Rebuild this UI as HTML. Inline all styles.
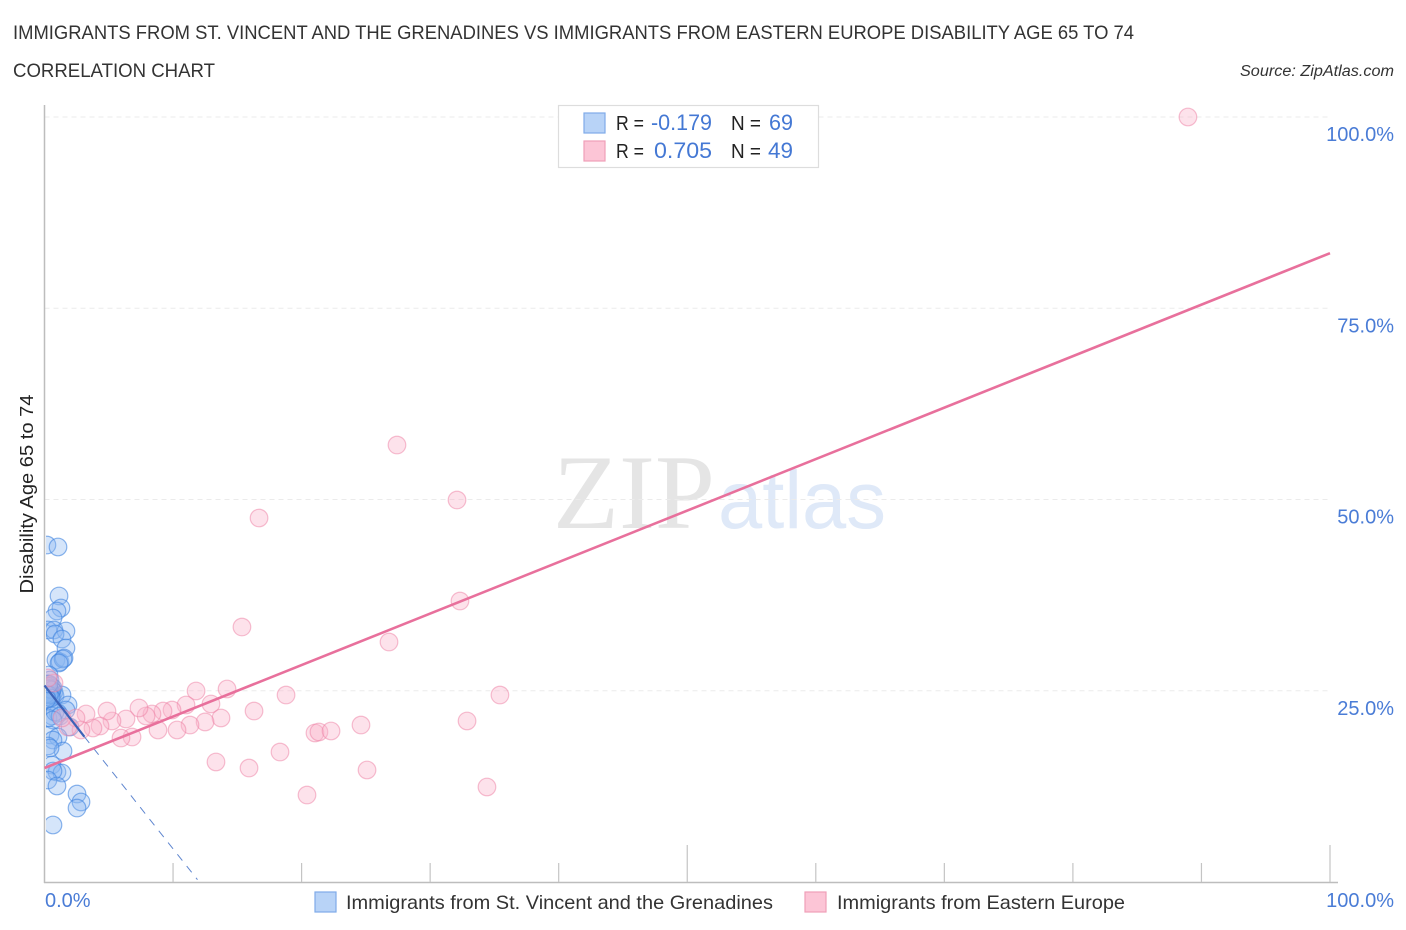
<!DOCTYPE html>
<html>
<head>
<meta charset="utf-8">
<title>Disability Age 65 to 74 Correlation Chart</title>
<style>
html,body{margin:0;padding:0;background:#fff;}
svg{display:block;font-family:"Liberation Sans",sans-serif;}
</style>
</head>
<body>
<svg id="chart" width="1406" height="930" viewBox="0 0 1406 930" xmlns="http://www.w3.org/2000/svg">
  <rect width="1406" height="930" fill="#fff"/>
  <text x="13" y="39" font-size="19" fill="#333" textLength="1121" lengthAdjust="spacingAndGlyphs">IMMIGRANTS FROM ST. VINCENT AND THE GRENADINES VS IMMIGRANTS FROM EASTERN EUROPE DISABILITY AGE 65 TO 74</text>
  <text x="13" y="77" font-size="19" fill="#333" textLength="202" lengthAdjust="spacingAndGlyphs">CORRELATION CHART</text>
  <text x="1394" y="76" font-size="15.5" font-style="italic" fill="#333" text-anchor="end" textLength="154" lengthAdjust="spacingAndGlyphs">Source: ZipAtlas.com</text>
  <g>
    <text x="553" y="528" font-family="'Liberation Serif',serif" font-size="106" fill="#e5e5e5" textLength="162" lengthAdjust="spacingAndGlyphs">ZIP</text>
    <text x="718" y="528" font-family="'Liberation Sans',sans-serif" font-size="82" fill="#dfe9f8" textLength="168" lengthAdjust="spacingAndGlyphs">atlas</text>
  </g>
  <g id="grid"></g>
  <g id="axes"></g>
  <defs>
    <clipPath id="plot-clip"><rect x="46" y="100" width="1300" height="782"/></clipPath>
  </defs>
  <g id="marks" clip-path="url(#plot-clip)"></g>
  <g id="trends"></g>
  <g id="labels"></g>
  <text transform="translate(33,494) rotate(-90)" font-size="18" fill="#222" text-anchor="middle" textLength="199" lengthAdjust="spacingAndGlyphs">Disability Age 65 to 74</text>

  <g>
    <rect x="558.5" y="105.5" width="260" height="62" fill="#fff" stroke="#ddd" stroke-width="1.2"/>
    <rect x="584" y="113" width="21" height="20" fill="#b8d3f7" stroke="#7fabe8" stroke-width="1.2"/>
    <rect x="584" y="141" width="21" height="20" fill="#fcc5d6" stroke="#ef9fb8" stroke-width="1.2"/>
    <text x="616" y="130" font-size="20" fill="#222" textLength="28" lengthAdjust="spacingAndGlyphs">R =</text>
    <text x="651" y="130" font-size="22" fill="#4478d4" textLength="61" lengthAdjust="spacingAndGlyphs">-0.179</text>
    <text x="731" y="130" font-size="20" fill="#222" textLength="30" lengthAdjust="spacingAndGlyphs">N =</text>
    <text x="769" y="130" font-size="22" fill="#4478d4" textLength="24" lengthAdjust="spacingAndGlyphs">69</text>
    <text x="616" y="158" font-size="20" fill="#222" textLength="28" lengthAdjust="spacingAndGlyphs">R =</text>
    <text x="654" y="158" font-size="22" fill="#4478d4" textLength="58" lengthAdjust="spacingAndGlyphs">0.705</text>
    <text x="731" y="158" font-size="20" fill="#222" textLength="30" lengthAdjust="spacingAndGlyphs">N =</text>
    <text x="768" y="158" font-size="22" fill="#4478d4" textLength="25" lengthAdjust="spacingAndGlyphs">49</text>
  </g>

  <g>
    <rect x="315" y="892" width="21" height="20" fill="#b8d3f7" stroke="#7fabe8" stroke-width="1.2"/>
    <text x="346" y="909" font-size="19.5" fill="#333" textLength="427" lengthAdjust="spacingAndGlyphs">Immigrants from St. Vincent and the Grenadines</text>
    <rect x="805" y="892" width="21" height="20" fill="#fcc5d6" stroke="#ef9fb8" stroke-width="1.2"/>
    <text x="837" y="909" font-size="19.5" fill="#333" textLength="288" lengthAdjust="spacingAndGlyphs">Immigrants from Eastern Europe</text>
  </g>
</svg>
<script>
const blueX = [0.19,1.05,1.13,1.28,0.97,0.66,0.27,0.74,1.67,0.82,1.36,1.67,0.89,1.21,1.52,1.44,1.13,0.35,0.43,0.19,0.51,0.27,0.66,0.12,0.43,0.74,0.19,0.58,0.27,0.82,1.36,0.04,0.43,1.83,1.67,1.05,0.58,0.27,0.82,1.21,0.50,0.35,0.66,0.42,1.98,0.43,1.05,0.66,0.27,1.44,0.43,0.58,0.97,1.36,0.66,0.27,0.97,2.53,2.84,2.53,0.66,0.19,0.35,0.58,0.12,0.35,0.51,0.19,0.35];
const blueY = [44.05,43.79,37.39,35.82,35.42,34.51,32.94,32.94,32.81,32.42,31.76,30.59,29.02,28.76,29.28,29.15,28.63,27.06,26.41,25.88,25.62,25.36,25.36,25.10,24.97,24.84,24.71,24.44,24.18,24.31,24.44,23.79,23.53,23.14,22.48,22.09,21.70,21.44,22.22,21.70,24.80,25.20,21.18,24.60,20.26,19.22,18.95,18.56,17.78,17.12,17.52,15.29,14.38,14.25,14.51,13.33,12.55,11.50,10.46,9.67,7.45,25.62,25.23,25.10,24.58,24.44,24.05,23.92,25.88];
const pinkX = [88.95,27.42,32.09,16.69,32.32,15.36,26.80,35.43,32.87,14.20,11.79,18.79,16.30,12.95,11.01,9.92,9.22,13.73,12.49,11.32,10.31,8.83,8.36,7.90,7.35,6.34,6.81,5.95,5.25,4.86,4.32,3.77,3.23,2.84,2.45,1.83,1.36,0.74,0.27,13.34,15.91,18.32,20.42,21.04,21.35,22.29,24.62,25.09,34.42];
const pinkY = [100.0,57.12,49.93,47.58,36.73,33.33,31.37,24.44,21.05,25.23,24.97,24.44,22.35,23.27,23.14,22.48,22.35,21.44,20.92,20.52,19.87,19.87,21.96,21.70,22.75,21.31,18.95,18.82,21.05,22.35,20.39,20.13,21.96,19.87,21.44,20.26,21.44,26.01,26.67,15.69,14.90,16.99,11.37,19.48,19.61,19.74,20.52,14.64,12.42];
const pinkTrendX = [0, 100];
const pinkTrendY = [14.9, 82.2];
const blueSolidX = [0, 3.1];
const blueSolidY = [25.7, 19.0];
const blueDashX = [3.1, 11.9];
const blueDashY = [19.0, 0.3];
const yTickValues = [100, 75, 50, 25];
const yTickLabels = ["100.0%", "75.0%", "50.0%", "25.0%"];
const gridValues = [100, 75, 50, 25];
const xTickValues = [10, 20, 30, 40, 50, 60, 70, 80, 90, 100];
const xMajorTicks = [50, 100];
const xEndLabels = ["0.0%", "100.0%"];

const NS = "http://www.w3.org/2000/svg";
function sx(v){ return 44.5 + v * 12.855; }
function sy(v){ return 882 - v * 7.65; }
function mk(tag, attrs, parent){
  const el = document.createElementNS(NS, tag);
  for (const k in attrs) el.setAttribute(k, attrs[k]);
  parent.appendChild(el);
  return el;
}
const gridG = document.getElementById("grid");
const axesG = document.getElementById("axes");
const marksG = document.getElementById("marks");
const trendsG = document.getElementById("trends");
const labelsG = document.getElementById("labels");

gridValues.forEach(function(v){
  const el = mk("line", {x1:44.5, x2:1330, y1:sy(v), y2:sy(v), stroke:"#ebebeb", "stroke-width":1, "stroke-dasharray":"5 4"}, gridG);
  
  
});

const yAxis = mk("line", {x1:44.5, x2:44.5, y1:105, y2:883, stroke:"#bdbdbd", "stroke-width":1.5}, axesG);


const xAxis = mk("line", {x1:44, x2:1338, y1:882.5, y2:882.5, stroke:"#bdbdbd", "stroke-width":1.5}, axesG);


xTickValues.forEach(function(v){
  const top = xMajorTicks.indexOf(v) >= 0 ? 845 : 863;
  const el = mk("line", {x1:sx(v), x2:sx(v), y1:top, y2:882, stroke:"#c4c4c4", "stroke-width":1.2}, axesG);
  
  
});

blueX.forEach(function(v, i){
  const el = mk("circle", {cx:sx(v), cy:sy(blueY[i]), r:8.8, fill:"#8ab8f2", "fill-opacity":0.36, stroke:"#3f83e0", "stroke-opacity":0.6, "stroke-width":1.2}, marksG);
  
  
});
pinkX.forEach(function(v, i){
  const el = mk("circle", {cx:sx(v), cy:sy(pinkY[i]), r:8.8, fill:"#fbb4cb", "fill-opacity":0.38, stroke:"#ee7fa3", "stroke-opacity":0.5, "stroke-width":1.2}, marksG);
  
  
});

const blueSolid = mk("line", {x1:sx(blueSolidX[0]), y1:sy(blueSolidY[0]), x2:sx(blueSolidX[1]), y2:sy(blueSolidY[1]), stroke:"#3c63b8", "stroke-width":2.2}, trendsG);


const blueDash = mk("line", {x1:sx(blueDashX[0]), y1:sy(blueDashY[0]), x2:sx(blueDashX[1]), y2:sy(blueDashY[1]), stroke:"#5f86cf", "stroke-width":1, "stroke-dasharray":"8 7"}, trendsG);


const pinkLine = mk("line", {x1:sx(pinkTrendX[0]), y1:sy(pinkTrendY[0]), x2:sx(pinkTrendX[1]), y2:sy(pinkTrendY[1]), stroke:"#e8709c", "stroke-width":2.6}, trendsG);



yTickValues.forEach(function(v, i){
  const el = mk("text", {x:1394, y:sy(v) + 24, "font-size":20, fill:"#4a7cd6", "text-anchor":"end"}, labelsG);
  
  
  el.textContent = yTickLabels[i];
});
const xStart = mk("text", {x:45, y:907, "font-size":20, fill:"#4a7cd6"}, labelsG);


xStart.textContent = xEndLabels[0];
const xEnd = mk("text", {x:1394, y:907, "font-size":20, fill:"#4a7cd6", "text-anchor":"end"}, labelsG);


xEnd.textContent = xEndLabels[1];
</script>
</body>
</html>
